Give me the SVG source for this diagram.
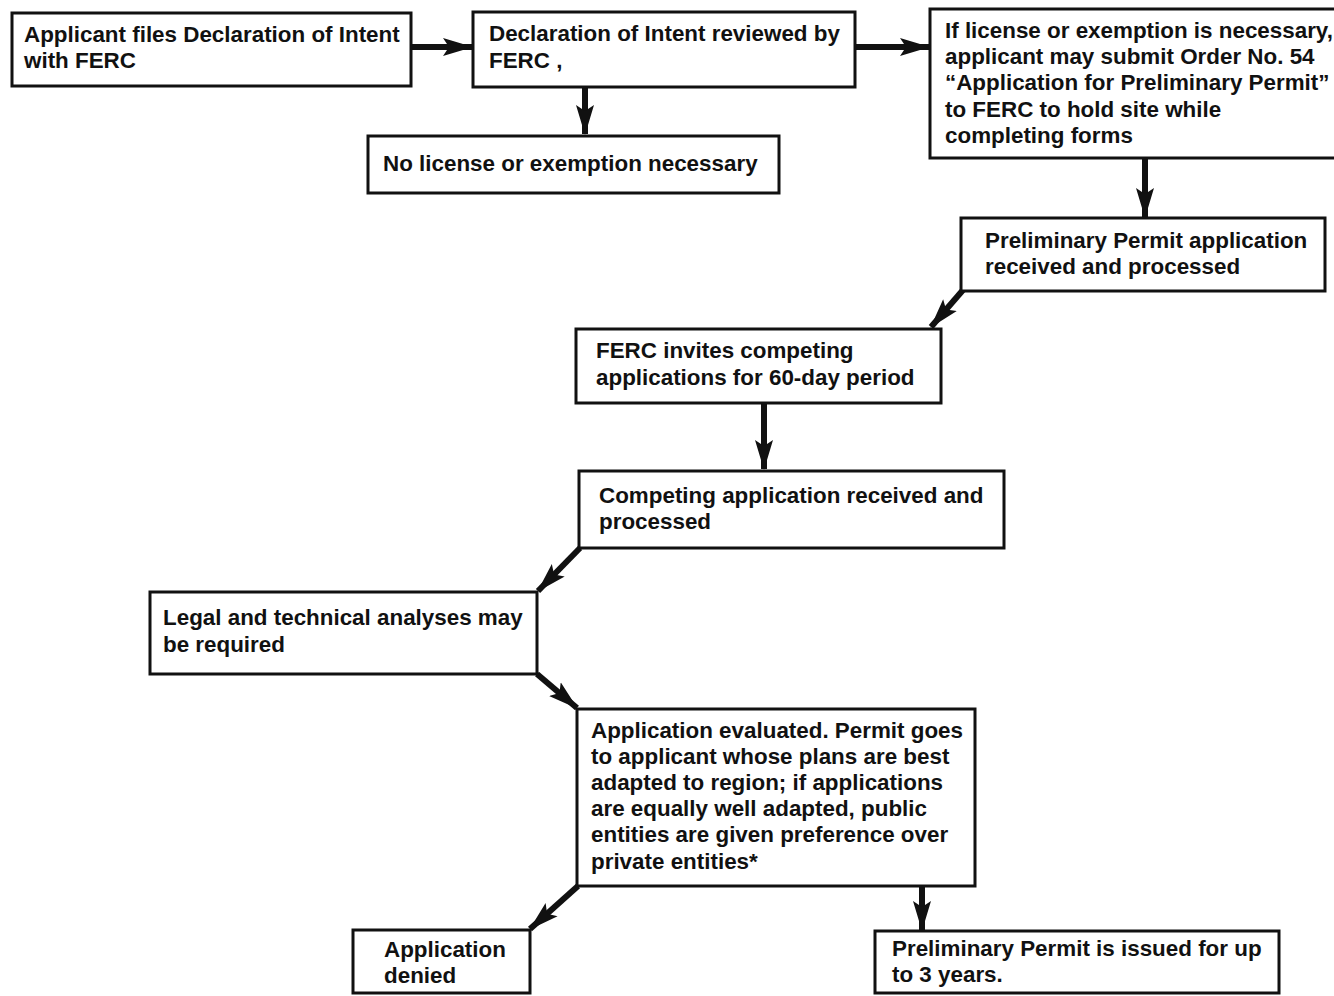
<svg xmlns="http://www.w3.org/2000/svg" width="1334" height="996" viewBox="0 0 1334 996">
  <style>
    .box { fill: #ffffff; stroke: #111111; stroke-width: 3; }
    .lbl { font-family: "Liberation Sans", Arial, Helvetica, sans-serif; font-weight: bold; font-size: 22.4px; fill: #111111; }
    .wire { stroke: #111111; stroke-width: 6; fill: none; marker-end: url(#head); }
  </style>
  <defs>
    <marker id="head" markerUnits="userSpaceOnUse" markerWidth="30" markerHeight="22" viewBox="0 0 30 22" refX="29" refY="11" orient="auto">
      <path d="M0,2 L30,11 L0,20 L6,11 Z" fill="#111111"/>
    </marker>
  </defs>

  <rect width="1334" height="996" fill="#ffffff"/>

  <!-- connectors -->
  <g id="connectors">
    <line class="wire" x1="411" y1="47" x2="472" y2="47"/>
    <line class="wire" x1="855" y1="47" x2="929" y2="47"/>
    <line class="wire" x1="585" y1="87" x2="585" y2="134"/>
    <line class="wire" x1="1145" y1="158" x2="1145" y2="217"/>
    <line class="wire" x1="963" y1="290" x2="931" y2="327"/>
    <line class="wire" x1="764" y1="403" x2="764" y2="469"/>
    <line class="wire" x1="580" y1="548" x2="538" y2="591"/>
    <line class="wire" x1="537" y1="674" x2="577" y2="708"/>
    <line class="wire" x1="578" y1="886" x2="530" y2="929"/>
    <line class="wire" x1="922" y1="886" x2="922" y2="930"/>
  </g>

  <g id="declare">
    <rect class="box" x="12" y="13" width="399" height="73"/>
    <text class="lbl" x="24" y="42">Applicant files Declaration of Intent</text>
    <text class="lbl" x="24" y="68">with FERC</text>
  </g>

  <g id="review">
    <rect class="box" x="473" y="12" width="382" height="75"/>
    <text class="lbl" x="489" y="41">Declaration of Intent reviewed by</text>
    <text class="lbl" x="489" y="68">FERC ,</text>
  </g>

  <g id="no-license">
    <rect class="box" x="368" y="136" width="411" height="57"/>
    <text class="lbl" x="383" y="171">No license or exemption necessary</text>
  </g>

  <g id="submit-permit">
    <rect class="box" x="930" y="9" width="420" height="149"/>
    <text class="lbl" x="945" y="38">If license or exemption is necessary,</text>
    <text class="lbl" x="945" y="64">applicant may submit Order No. 54</text>
    <text class="lbl" x="945" y="90">“Application for Preliminary Permit”</text>
    <text class="lbl" x="945" y="117">to FERC to hold site while</text>
    <text class="lbl" x="945" y="143">completing forms</text>
  </g>

  <g id="permit-received">
    <rect class="box" x="961" y="218" width="364" height="73"/>
    <text class="lbl" x="985" y="248">Preliminary Permit application</text>
    <text class="lbl" x="985" y="274">received and processed</text>
  </g>

  <g id="invite">
    <rect class="box" x="576" y="329" width="365" height="74"/>
    <text class="lbl" x="596" y="358">FERC invites competing</text>
    <text class="lbl" x="596" y="385">applications for 60-day period</text>
  </g>

  <g id="competing">
    <rect class="box" x="579" y="471" width="425" height="77"/>
    <text class="lbl" x="599" y="503">Competing application received and</text>
    <text class="lbl" x="599" y="529">processed</text>
  </g>

  <g id="analyses">
    <rect class="box" x="150" y="592" width="387" height="82"/>
    <text class="lbl" x="163" y="625">Legal and technical analyses may</text>
    <text class="lbl" x="163" y="652">be required</text>
  </g>

  <g id="evaluate">
    <rect class="box" x="577" y="709" width="398" height="177"/>
    <text class="lbl" x="591" y="738">Application evaluated. Permit goes</text>
    <text class="lbl" x="591" y="764">to applicant whose plans are best</text>
    <text class="lbl" x="591" y="790">adapted to region; if applications</text>
    <text class="lbl" x="591" y="816">are equally well adapted, public</text>
    <text class="lbl" x="591" y="842">entities are given preference over</text>
    <text class="lbl" x="591" y="869">private entities*</text>
  </g>

  <g id="denied">
    <rect class="box" x="353" y="930" width="177" height="63"/>
    <text class="lbl" x="384" y="957">Application</text>
    <text class="lbl" x="384" y="983">denied</text>
  </g>

  <g id="issued">
    <rect class="box" x="875" y="931" width="404" height="62"/>
    <text class="lbl" x="892" y="956">Preliminary Permit is issued for up</text>
    <text class="lbl" x="892" y="982">to 3 years.</text>
  </g>
</svg>
